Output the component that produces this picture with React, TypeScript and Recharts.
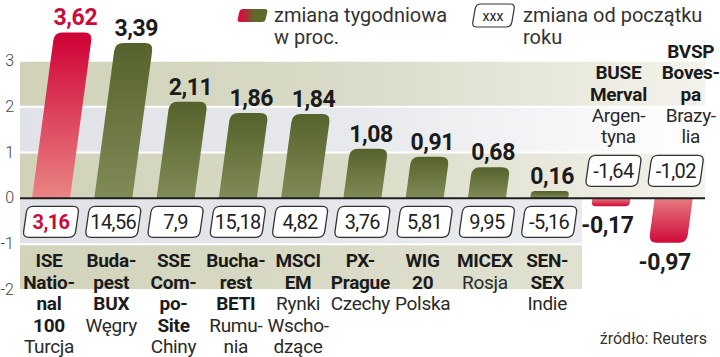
import React from 'react';
import { BarChart, Bar, XAxis, YAxis, CartesianGrid, ReferenceLine, LabelList } from 'recharts';

const indexNames = [
  'ISE National 100', 'Budapest BUX', 'SSE Composite', 'Bucharest BETI', 'MSCI EM',
  'PX-Prague', 'WIG 20', 'MICEX', 'SENSEX', 'BUSE Merval', 'BVSP Bovespa',
];
const weeklyChange = [3.62, 3.39, 2.11, 1.86, 1.84, 1.08, 0.91, 0.68, 0.16, -0.17, -0.97];
const ytdChange = [3.16, 14.56, 7.9, 15.18, 4.82, 3.76, 5.81, 9.95, -5.16, -1.64, -1.02];
const nameLines = [
  ['ISE', 'Natio-', 'nal', '100'], ['Buda-', 'pest', 'BUX'], ['SSE', 'Com-', 'po-', 'Site'],
  ['Bucha-', 'rest', 'BETI'], ['MSCI', 'EM'], ['PX-', 'Prague'], ['WIG', '20'], ['MICEX'],
  ['SEN-', 'SEX'], ['BUSE', 'Merval'], ['BVSP', 'Boves-', 'pa'],
];
const countryLines = [
  ['Turcja'], ['Węgry'], ['Chiny'], ['Rumu-', 'nia'], ['Rynki', 'Wscho-', 'dzące'], ['Czechy'],
  ['Polska'], ['Rosja'], ['Indie'], ['Argen-', 'tyna'], ['Brazy-', 'lia'],
];
const yTicks = [-2, -1, 0, 1, 2, 3];

const data = indexNames.map((name, i) => ({ name, weekly: weeklyChange[i], ytd: ytdChange[i] }));
const maxWeekly = Math.max(...weeklyChange);

const FONT = 'Roboto, "Noto Sans", sans-serif';
const RED = '#cc0a3c';
const K = 0.135; // slant of the bars

type Pt = [number, number];

// polygon with optional rounded corners
function roundedPath(pts: Pt[], radii: number[]) {
  const n = pts.length;
  let d = '';
  pts.forEach((p, i) => {
    const r = radii[i];
    const cmd = i === 0 ? 'M' : 'L';
    if (r <= 0) {
      d += `${cmd}${p[0]},${p[1]} `;
      return;
    }
    const toward = (q: Pt): Pt => {
      const dx = q[0] - p[0];
      const dy = q[1] - p[1];
      const len = Math.hypot(dx, dy) || 1;
      const t = Math.min(r, len / 2) / len;
      return [p[0] + dx * t, p[1] + dy * t];
    };
    const a = toward(pts[(i - 1 + n) % n]);
    const b = toward(pts[(i + 1) % n]);
    d += `${cmd}${a[0]},${a[1]} Q${p[0]},${p[1]} ${b[0]},${b[1]} `;
  });
  return d + 'Z';
}

const fmt = (v: number) => String(v).replace('.', ',');

function geom(props: any) {
  const vb = props.viewBox && props.viewBox.width != null ? props.viewBox : props;
  const { x, y, width, height } = vb;
  const top = Math.min(y, y + height);
  const bot = Math.max(y, y + height);
  return { x, width, top, bot };
}

function SkewBar(props: any) {
  const { x, width, top, bot } = geom(props);
  const v = props.payload.weekly;
  const neg = v < 0;
  const h = bot - top;
  if (!h) return null;
  const r = Math.min(8, h / 2);
  const s = h * K;
  const pts: Pt[] = neg
    ? [[x, top], [x + width, top], [x + width - s, bot], [x - s, bot]]
    : [[x, bot], [x + width, bot], [x + width + s, top], [x + s, top]];
  const fill = neg ? 'url(#gRedDown)' : v === maxWeekly ? 'url(#gRedUp)' : 'url(#gOlive)';
  return <path d={roundedPath(pts, [0, 0, r, r])} fill={fill} />;
}

function WeeklyLabel(props: any) {
  const { x, width, top, bot } = geom(props);
  const value = props.value as number;
  const s = (bot - top) * K;
  const neg = value < 0;
  const cx = neg ? x + width / 2 - s - 3 : x + width / 2 + s + 2;
  const ty = neg ? bot + 27 : top - 7;
  return (
    <text x={cx} y={ty} textAnchor="middle" fontFamily={FONT} fontWeight={700} fontSize={23}
      fill={value === maxWeekly ? RED : '#1b1b1b'} letterSpacing={-0.4}>
      {fmt(value)}
    </text>
  );
}

function YtdBox(props: any) {
  const { x, width, top, bot } = geom(props);
  const i = props.index as number;
  const neg = weeklyChange[i] < 0;
  const y0 = neg ? top : bot;
  const cx = x + width / 2 + (neg ? 2 : 0);
  const bt = neg ? y0 - 43 : y0 + 8;
  const bh = 31;
  const bw = 52;
  const sk = 2.2;
  const pts: Pt[] = [
    [cx - bw / 2 + sk, bt], [cx + bw / 2 + sk, bt], [cx + bw / 2 - sk, bt + bh], [cx - bw / 2 - sk, bt + bh],
  ];
  const hl = weeklyChange[i] === maxWeekly;
  return (
    <g>
      <path d={roundedPath(pts, [6, 6, 6, 6])} fill="#fff" stroke="#333" strokeWidth={1.3} />
      <text x={cx} y={bt + 23} textAnchor="middle" fontFamily={FONT} fontSize={20}
        fontWeight={hl ? 700 : 400} fill={hl ? RED : '#222'} letterSpacing={-0.6}>
        {fmt(props.value)}
      </text>
    </g>
  );
}

function NameLabel(props: any) {
  const { x, width, top, bot } = geom(props);
  const i = props.index as number;
  const neg = weeklyChange[i] < 0;
  const y0 = neg ? top : bot;
  const lines = [
    ...nameLines[i].map((t) => ({ t, b: true })),
    ...countryLines[i].map((t) => ({ t, b: false })),
  ];
  const LH = 21.4;
  const first = neg ? y0 - 55 - (lines.length - 1) * LH : y0 + 69;
  const cx = x + width / 2 + (neg ? (i === indexNames.length - 1 ? 17 : 7) : -2);
  return (
    <g>
      {lines.map((l, k) => (
        <text key={k} x={cx} y={first + k * LH} textAnchor="middle" fontFamily={FONT} fontSize={19}
          fontWeight={l.b ? 700 : 400} fill={l.b ? '#1b1b1b' : '#2a2a2a'} letterSpacing={-0.3}>
          {l.t}
        </text>
      ))}
    </g>
  );
}

function YTick(props: any) {
  const { y, payload } = props;
  return (
    <text x={14} y={y + 5} textAnchor="end" fontFamily={FONT} fontSize={16} fontWeight={300} fill="#444">
      {payload.value}
    </text>
  );
}

export default function App() {
  return (
    <div style={{ position: 'absolute', left: 0, top: 0, width: 720, height: 357, background: '#fff' }}>
      <svg width={0} height={0} style={{ position: 'absolute' }}>
        <defs>
          <linearGradient id="gOlive" x1="0" y1="0" x2="0" y2="1">
            <stop offset="0" stopColor="#56622b" />
            <stop offset="1" stopColor="#808b57" />
          </linearGradient>
          <linearGradient id="gRedUp" x1="0" y1="0" x2="0" y2="1">
            <stop offset="0" stopColor="#cf0036" />
            <stop offset="1" stopColor="#ea8585" />
          </linearGradient>
          <linearGradient id="gRedDown" x1="0" y1="0" x2="0" y2="1">
            <stop offset="0" stopColor="#e67a80" />
            <stop offset="1" stopColor="#d00a3a" />
          </linearGradient>
          <linearGradient id="bOliveTop" x1="0" y1="0" x2="1" y2="0">
            <stop offset="0" stopColor="#d1d2b9" />
            <stop offset="0.5" stopColor="#dadbc8" />
            <stop offset="1" stopColor="#f3f3ec" />
          </linearGradient>
          <linearGradient id="bGrayTop" x1="0" y1="0" x2="1" y2="0">
            <stop offset="0" stopColor="#e0e2e7" />
            <stop offset="0.5" stopColor="#e8e9ec" />
            <stop offset="1" stopColor="#ffffff" />
          </linearGradient>
          <linearGradient id="bGrayLow" x1="0" y1="0" x2="1" y2="0">
            <stop offset="0" stopColor="#e0e2e7" />
            <stop offset="0.82" stopColor="#eaebee" />
            <stop offset="0.821" stopColor="#ffffff" stopOpacity={0} />
          </linearGradient>
          <linearGradient id="bOliveLow" x1="0" y1="0" x2="1" y2="0">
            <stop offset="0" stopColor="#d2d3bb" />
            <stop offset="0.82" stopColor="#e0e1d0" />
            <stop offset="0.821" stopColor="#ffffff" stopOpacity={0} />
          </linearGradient>
          <linearGradient id="gSwatch" x1="0" y1="0" x2="1" y2="0">
            <stop offset="0.15" stopColor="#d5103e" />
            <stop offset="0.55" stopColor="#5d6a2b" />
          </linearGradient>
        </defs>
      </svg>
      <BarChart width={720} height={357} data={data} margin={{ top: 15, right: 15, bottom: 67, left: 0 }} barSize={38}>
        <CartesianGrid vertical={false} stroke="#fff" strokeWidth={2}
          horizontalFill={['none', 'url(#bOliveTop)', 'url(#bGrayTop)', 'url(#bOliveTop)', 'url(#bGrayLow)', 'url(#bOliveLow)']} />
        <XAxis dataKey="name" hide />
        <YAxis width={20} domain={[-2, 4]} ticks={yTicks} interval={0} axisLine={false} tickLine={false} tick={<YTick />} />
        <Bar dataKey="weekly" shape={SkewBar} isAnimationActive={false}>
          <LabelList dataKey="weekly" content={WeeklyLabel} />
          <LabelList dataKey="ytd" content={YtdBox} />
          <LabelList dataKey="name" content={NameLabel} />
        </Bar>
        <ReferenceLine y={0} stroke="#1d1d1d" strokeWidth={2} />
      </BarChart>
      <svg width={720} height={357} style={{ position: 'absolute', left: 0, top: 0, pointerEvents: 'none' }}>
        <path d={roundedPath([[240, 9], [268, 9], [265, 22], [237, 22]], [3, 3, 3, 3])} fill="url(#gSwatch)" />
        <text x={274} y={22} fontFamily={FONT} fontSize={20} fill="#333">zmiana tygodniowa</text>
        <text x={274} y={44} fontFamily={FONT} fontSize={20} fill="#333">w proc.</text>
        <path d={roundedPath([[476, 4], [515, 4], [511, 27], [472, 27]], [5, 5, 5, 5])} fill="#fff" stroke="#333" strokeWidth={1.2} />
        <text x={493} y={21} textAnchor="middle" fontFamily={FONT} fontSize={14} fill="#222">xxx</text>
        <text x={523} y={22} fontFamily={FONT} fontSize={20} fill="#333">zmiana od początku</text>
        <text x={523} y={44} fontFamily={FONT} fontSize={20} fill="#333">roku</text>
        <text x={707} y={344} textAnchor="end" fontFamily={FONT} fontSize={16} fill="#333">źródło: Reuters</text>
      </svg>
    </div>
  );
}
